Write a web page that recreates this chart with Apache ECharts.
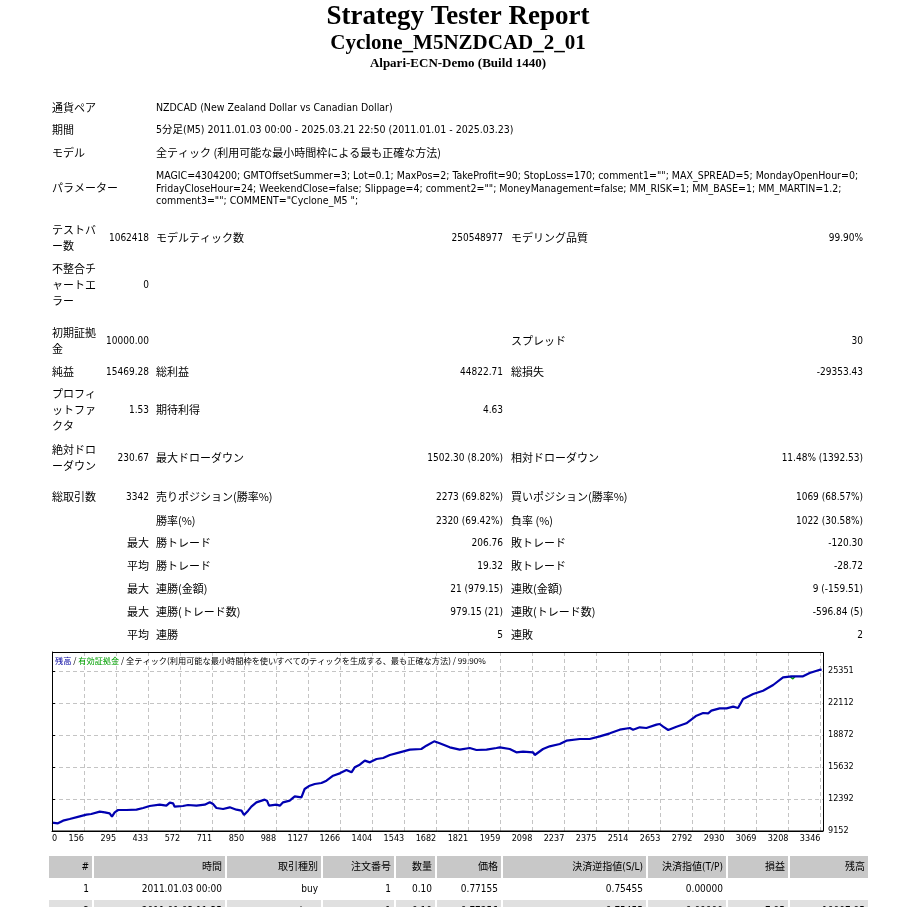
<!DOCTYPE html>
<html><head><meta charset="utf-8">
<script src="https://cdn.jsdelivr.net/npm/echarts@6/dist/echarts.min.js"></script>
<style>html,body{margin:0;padding:0;background:#fff;overflow:hidden}#c{width:923px;height:907px}</style>
</head><body><div id="c"></div>
<script>
// ---------------- data ----------------
const titleLines = ['Strategy Tester Report', 'Cyclone_M5NZDCAD_2_01', 'Alpari-ECN-Demo (Build 1440)'];
const infoLabels = ['通貨ペア', '期間', 'モデル', 'パラメーター'];
const infoValues = [
  'NZDCAD (New Zealand Dollar vs Canadian Dollar)',
  '5分足(M5) 2011.01.03 00:00 - 2025.03.21 22:50 (2011.01.01 - 2025.03.23)',
  '全ティック (利用可能な最小時間枠による最も正確な方法)'
];
const paramLines = [
  'MAGIC=4304200; GMTOffsetSummer=3; Lot=0.1; MaxPos=2; TakeProfit=90; StopLoss=170; comment1=""; MAX_SPREAD=5; MondayOpenHour=0;',
  'FridayCloseHour=24; WeekendClose=false; Slippage=4; comment2=""; MoneyManagement=false; MM_RISK=1; MM_BASE=1; MM_MARTIN=1.2;',
  'comment3=""; COMMENT="Cyclone_M5 ";'
];
const statRows = [
  ['テストバ\nー数', '1062418', 'モデルティック数', '250548977', 'モデリング品質', '99.90%'],
  ['不整合チ\nャートエ\nラー', '0', '', '', '', ''],
  ['初期証拠\n金', '10000.00', '', '', 'スプレッド', '30'],
  ['純益', '15469.28', '総利益', '44822.71', '総損失', '-29353.43'],
  ['プロフィ\nットファ\nクタ', '1.53', '期待利得', '4.63', '', ''],
  ['絶対ドロ\nーダウン', '230.67', '最大ドローダウン', '1502.30 (8.20%)', '相対ドローダウン', '11.48% (1392.53)'],
  ['総取引数', '3342', '売りポジション(勝率%)', '2273 (69.82%)', '買いポジション(勝率%)', '1069 (68.57%)'],
  ['', '', '勝率(%)', '2320 (69.42%)', '負率 (%)', '1022 (30.58%)'],
  ['', '最大', '勝トレード', '206.76', '敗トレード', '-120.30'],
  ['', '平均', '勝トレード', '19.32', '敗トレード', '-28.72'],
  ['', '最大', '連勝(金額)', '21 (979.15)', '連敗(金額)', '9 (-159.51)'],
  ['', '最大', '連勝(トレード数)', '979.15 (21)', '連敗(トレード数)', '-596.84 (5)'],
  ['', '平均', '連勝', '5', '連敗', '2']
];
const chartCaptionParts = ['残高', '有効証拠金', '全ティック(利用可能な最小時間枠を使いすべてのティックを生成する、最も正確な方法)', '99.90%'];
const xTickLabels = ['0','156','295','433','572','711','850','988','1127','1266','1404','1543','1682','1821','1959','2098','2237','2375','2514','2653','2792','2930','3069','3208','3346'];
const yTickLabels = ['9152','12392','15632','18872','22112','25351'];
const balanceTrades = [0,26,48,77,121,128,150,171,208,230,251,261,273,288,324,368,397,425,469,498,513,527,534,570,592,629,665,687,701,716,745,774,803,825,836,854,868,890,926,936,945,977,992,1006,1035,1057,1086,1100,1122,1144,1173,1195,1224,1253,1282,1304,1318,1340,1362,1384,1413,1442,1471,1514,1558,1608,1630,1664,1688,1732,1775,1819,1848,1892,1935,1950,1993,2022,2051,2095,2102,2138,2167,2211,2240,2298,2341,2385,2429,2472,2516,2530,2559,2588,2632,2646,2661,2683,2719,2762,2806,2835,2857,2871,2907,2937,2966,2987,3009,3053,3096,3140,3183,3220,3270,3299,3343,3351];
const balanceValues = [10000,9928,10198,10367,10637,10468,10805,10873,11109,11041,10940,10603,11041,11278,11278,11311,11480,11683,11818,11716,12020,11953,11615,11683,11784,11716,11818,12054,11885,11480,11379,11548,11311,11210,10771,11210,11615,12054,12324,12223,11716,11818,11716,12054,12223,12661,12560,13404,13741,13910,14011,14248,14754,14990,15328,15091,15598,15868,16273,16104,16441,16543,16846,17116,17386,17454,17791,18230,18028,17623,17386,17555,17352,17386,17555,17623,17454,17116,17184,17116,16846,17454,17724,17960,18298,18466,18466,18736,19040,19411,19580,19411,19648,19580,19918,19985,19715,19378,19715,20053,20829,21099,21065,21335,21571,21571,21740,21605,22516,23023,23360,23934,24710,24811,24811,25149,25486,25469];
const equityTrades = [3212, 3226, 3236];
const equityValues = [24811, 24560, 24811];
const tableHeader = ['#', '時間', '取引種別', '注文番号', '数量', '価格', '決済逆指値(S/L)', '決済指値(T/P)', '損益', '残高'];
const tableRows = [
  ['1', '2011.01.03 00:00', 'buy', '1', '0.10', '0.77155', '0.75455', '0.00000', '', ''],
  ['2', '2011.01.03 11:35', 'close', '1', '0.10', '0.77256', '0.75455', '0.00000', '7.95', '10007.95']
];

// ---------------- layout ----------------
const LAT = '"DejaVu Sans Condensed","DejaVu Sans","Noto Sans CJK JP",sans-serif';
const CJK = '"Noto Sans CJK JP",sans-serif';
const SERIF = '"Liberation Serif","DejaVu Serif",serif';
const hasLatin = s => /[A-Za-z0-9]/.test(s);
const fontFor = (s, latSize) => hasLatin(s) ? (latSize || 10) + 'px ' + LAT : '11px ' + CJK;

const G = [];
function txt(x, y, s, align, font) {
  if (!s) return;
  G.push({
    type: 'text', x: x, y: y, silent: true,
    style: { text: s, fill: '#000', font: font || fontFor(s), align: align || 'left', textAlign: align || 'left',
             verticalAlign: 'middle', textVerticalAlign: 'middle', lineHeight: 16 }
  });
}
function rect(x, y, w, h, fill) {
  G.push({ type: 'rect', silent: true, shape: { x: x, y: y, width: w, height: h }, style: { fill: fill } });
}

// titles
txt(458, 17, titleLines[0], 'center', 'bold 27px ' + SERIF);
txt(458, 44, titleLines[1], 'center', 'bold 21px ' + SERIF);
txt(458, 64, titleLines[2], 'center', 'bold 13px ' + SERIF);

// info
const infoY = [108, 130, 153, 188];
const paramY = [176, 189, 201.5];
infoLabels.forEach((s, i) => txt(52, infoY[i], s, 'left'));
infoValues.forEach((s, i) => txt(156, infoY[i], s, 'left', fontFor(s, 10.5)));
paramLines.forEach((s, i) => txt(156, paramY[i], s, 'left', fontFor(s, 10.5)));

// stats
const statY = [238, 285, 341, 372, 410, 458, 497, 521, 543, 566, 589, 612, 635];
const colX = [52, 149, 156, 503, 511, 863];
const colA = ['left', 'right', 'left', 'right', 'left', 'right'];
statRows.forEach((r, i) => r.forEach((s, j) => txt(colX[j], statY[i], s, colA[j])));

// bottom table
const cellL = [49, 94, 227, 323, 396, 437, 503, 648, 728, 790];
const cellR = [92, 225, 321, 394, 435, 501, 646, 726, 788, 868];
cellL.forEach((l, j) => rect(l, 856, cellR[j] - l, 22, '#c8c8c8'));
cellL.forEach((l, j) => rect(l, 900, cellR[j] - l, 22, '#e0e0e0'));
tableHeader.forEach((s, j) => txt(cellR[j] - 3, 867, s, 'right', '10px ' + LAT));
const rowY = [889, 911];
tableRows.forEach((r, i) => r.forEach((s, j) => txt(cellR[j] - 3, rowY[i], s, 'right', '10px ' + LAT)));

// chart caption
G.push({
  type: 'text', x: 55, y: 661, silent: true, z: 20,
  style: {
    text: '{b|' + chartCaptionParts[0] + '} / {e|' + chartCaptionParts[1] + '} / ' + chartCaptionParts[2] + ' / ' + chartCaptionParts[3],
    font: '8.2px ' + CJK, fill: '#000', verticalAlign: 'middle', textVerticalAlign: 'middle',
    rich: { b: { fill: '#0000a0', font: '8.2px ' + CJK }, e: { fill: '#00a000', font: '8.2px ' + CJK } }
  }
});
// chart frame
G.push({ type: 'rect', silent: true, z: 15, shape: { x: 52.5, y: 652.5, width: 771, height: 178.5 },
         style: { fill: 'none', stroke: '#000', lineWidth: 1 } });

// ---------------- chart ----------------
const xStep = 3346 / 24;
const yStep = (25351 - 9152) / 5;
const chart = echarts.init(document.getElementById('c'));
chart.setOption({
  animation: false,
  backgroundColor: '#fff',
  graphic: G,
  grid: { left: 52, top: 652, width: 771, height: 179 },
  xAxis: {
    type: 'value', min: 0, max: 3357, interval: xStep,
    axisLine: { show: true, lineStyle: { color: '#000' } },
    axisTick: { show: false },
    splitLine: { show: true, lineStyle: { color: '#c4c4c4', type: [4, 3] } },
    axisLabel: {
      show: true, showMaxLabel: false, align: 'right', alignMinLabel: 'left', margin: 3,
      color: '#000', fontSize: 9, fontFamily: LAT,
      formatter: v => { const k = Math.round(v / xStep); return Math.abs(v - k * xStep) < 0.5 ? (xTickLabels[k] || '') : ''; }
    }
  },
  yAxis: {
    type: 'value', position: 'right', min: 9152, max: 27275, interval: yStep,
    axisLine: { show: true, lineStyle: { color: '#000' } },
    axisTick: { show: true, length: 3, lineStyle: { color: '#000' } },
    splitLine: { show: true, lineStyle: { color: '#c4c4c4', type: [4, 3] } },
    axisLabel: {
      show: true, showMaxLabel: false, margin: 5, color: '#000', fontSize: 9, fontFamily: LAT,
      formatter: v => { const k = Math.round((v - 9152) / yStep); return Math.abs(v - 9152 - k * yStep) < 0.5 ? (yTickLabels[k] || '') : ''; }
    }
  },
  series: [
    { type: 'line', name: '有効証拠金', showSymbol: false, z: 2,
      lineStyle: { color: '#00a000', width: 1.5 },
      data: equityTrades.map((t, i) => [t, equityValues[i]]) },
    { type: 'line', name: '残高', showSymbol: false, z: 3,
      lineStyle: { color: '#0000b0', width: 2.2 },
      data: balanceTrades.map((t, i) => [t, balanceValues[i]]) }
  ]
});
</script></body></html>
